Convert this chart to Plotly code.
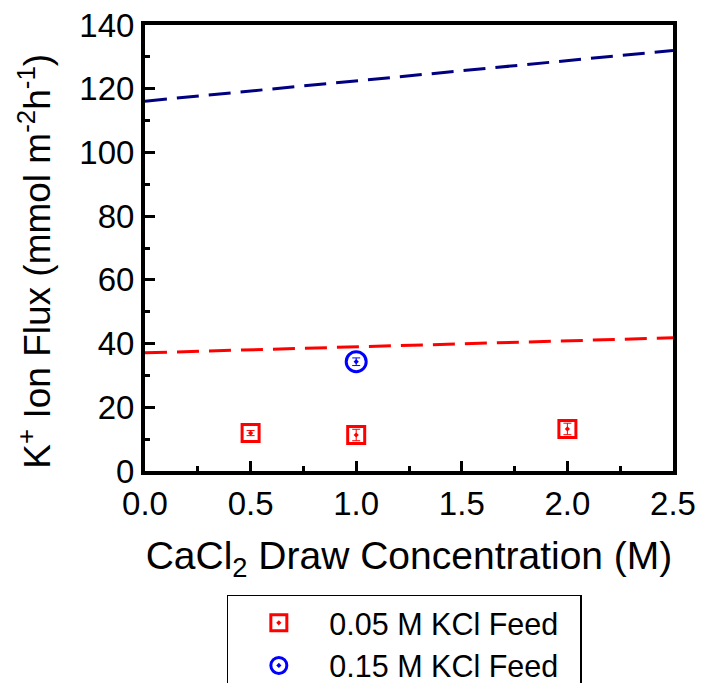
import plotly.graph_objects as go

# Data
x_005 = [0.5, 1.0, 2.0]
y_005 = [11.9, 11.3, 13.2]
err_005 = [0.8, 1.8, 1.8]
x_015 = [1.0]
y_015 = [34.3]
err_015 = [1.2]
line_x = [0.0, 2.5]
red_line_y = [37.1, 41.8]
navy_line_y = [116.1, 132.0]
x_ticks = [0, 0.5, 1.0, 1.5, 2.0, 2.5]
x_ticktext = ["0.0", "0.5", "1.0", "1.5", "2.0", "2.5"]
y_ticks = [0, 20, 40, 60, 80, 100, 120, 140]

FONT = "Liberation Sans, Arial, sans-serif"
PAD = "\u00a0\u00a0"

fig = go.Figure()
fig.add_trace(go.Scatter(x=line_x, y=navy_line_y, mode="lines",
                         line=dict(color="#000080", width=3, dash="22px,10px"),
                         showlegend=False, hoverinfo="skip"))
fig.add_trace(go.Scatter(x=line_x, y=red_line_y, mode="lines",
                         line=dict(color="#ff0000", width=3, dash="22px,10px"),
                         showlegend=False, hoverinfo="skip"))
fig.add_trace(go.Scatter(x=x_005, y=y_005, mode="markers", name="0.05 M KCl Feed" + PAD,
                         marker=dict(symbol="square-open-dot", size=17, color="#ff0000",
                                     line=dict(width=3, color="#ff0000")),
                         error_y=dict(type="data", array=err_005, color="#ff0000",
                                      thickness=1, width=4)))
fig.add_trace(go.Scatter(x=x_015, y=y_015, mode="markers", name="0.15 M KCl Feed" + PAD,
                         marker=dict(symbol="circle-open-dot", size=20, color="#0000ff",
                                     line=dict(width=3, color="#0000ff")),
                         error_y=dict(type="data", array=err_015, color="#0000ff",
                                      thickness=1, width=4)))

fig.update_layout(
    width=701, height=683,
    margin=dict(l=145, r=28, t=25, b=212, autoexpand=False),
    paper_bgcolor="white", plot_bgcolor="white",
    font=dict(family=FONT, color="black", size=31),
    showlegend=True,
    legend=dict(x=0.155, y=-0.278, xanchor="left", yanchor="top",
                bordercolor="black", borderwidth=1.5,
                font=dict(size=30.5, family=FONT), bgcolor="white",
                itemwidth=91, tracegroupgap=0),
    xaxis=dict(range=[0, 2.5], tickvals=x_ticks, ticktext=x_ticktext,
               ticks="inside", ticklen=10, tickwidth=3, tickcolor="black",
               minor=dict(ticks="inside", ticklen=5, tickwidth=3, dtick=0.25, tickcolor="black"),
               showline=True, linecolor="black", linewidth=4, mirror=True,
               showgrid=False, zeroline=False, automargin=False,
               tickfont=dict(size=33),
               title=dict(text="CaCl<sub>2</sub> Draw Concentration (M)",
                          font=dict(size=39), standoff=22)),
    yaxis=dict(range=[0, 140], tickvals=y_ticks,
               ticks="inside", ticklen=10, tickwidth=3, tickcolor="black",
               minor=dict(ticks="inside", ticklen=5, tickwidth=3, dtick=10, tickcolor="black"),
               showline=True, linecolor="black", linewidth=4, mirror=True,
               showgrid=False, zeroline=False, automargin=False,
               tickfont=dict(size=33)),
    annotations=[dict(text="K<sup>+</sup> Ion Flux (mmol m<sup>-2</sup>h<sup>-1</sup>)",
                      xref="paper", yref="paper", x=-0.2078, y=0.47,
                      xanchor="center", yanchor="middle", textangle=-90,
                      showarrow=False, font=dict(size=37, family=FONT, color="black"))],
)

fig.write_html("out.html", config={"displayModeBar": False},
               post_script="document.body.style.margin='0';")
